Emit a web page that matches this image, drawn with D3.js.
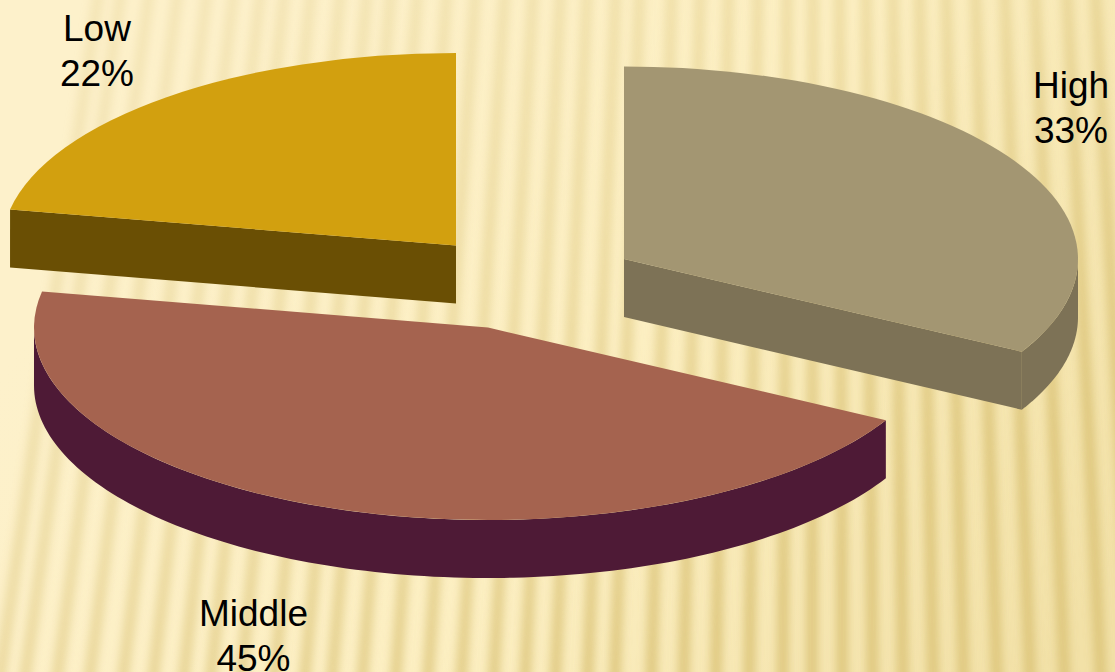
<!DOCTYPE html>
<html>
<head>
<meta charset="utf-8">
<style>
  html, body { margin: 0; padding: 0; background: #fdf1cb; overflow: hidden; }
  svg { display: block; }
  text { font-family: "Liberation Sans", Arial, sans-serif; font-size: 37px; fill: #000; text-anchor: middle; }
</style>
<script src="https://cdnjs.cloudflare.com/ajax/libs/d3/7.8.5/d3.min.js"></script>
</head>
<body>
<svg id="chart" width="1115" height="672"></svg>
<script>
// Share of respondents per group
const categories = ["High", "Middle", "Low"];
const values = [33, 45, 22];
const topColors = ["#a39672", "#a5634f", "#d2a00f"];
const wallColors = ["#7d7256", "#4e1a36", "#6a4f04"];

// Exploded slice origins on the tilted plane
const sliceCentersX = [624, 488, 456];
const sliceCentersY = [259, 327.5, 245.5];

// Label anchors: x centre and first baseline
const labelX = [1071, 253.5, 97];
const labelY = [98, 626, 41];
const labelLineGap = 45;

// Backdrop rib positions along y = 620
const ribs = [8, 33, 65, 97, 130, 160, 190, 217, 247, 280, 310, 337, 367, 400, 432, 465, 497, 528,
              558, 590, 617, 653, 685, 717, 750, 783, 812, 842, 872, 902, 932, 962, 995, 1028, 1062, 1098, 1130];

const width = 1115, height = 672;
const rx = 454, ry = 192.5, depth = 58;

const svg = d3.select("#chart");
const defs = svg.append("defs");

// Warm paper wash, pale at the top left and deeper toward the bottom right
const wash = defs.append("linearGradient").attr("id", "wash")
  .attr("gradientUnits", "userSpaceOnUse")
  .attr("x1", 200).attr("y1", 60).attr("x2", 1080).attr("y2", 620);
wash.append("stop").attr("offset", 0).attr("stop-color", "#fdf1cb");
wash.append("stop").attr("offset", 0.5).attr("stop-color", "#fcefc2");
wash.append("stop").attr("offset", 1).attr("stop-color", "#f2e1a7");

defs.append("filter").attr("id", "soft")
  .attr("filterUnits", "userSpaceOnUse")
  .attr("x", -50).attr("y", -50).attr("width", width + 100).attr("height", height + 100)
  .append("feGaussianBlur").attr("stdDeviation", 4.2);

// Ribs fade out toward the top left
const fade = defs.append("linearGradient").attr("id", "fade")
  .attr("gradientUnits", "userSpaceOnUse")
  .attr("x1", 250).attr("y1", 0).attr("x2", 650).attr("y2", 672);
fade.append("stop").attr("offset", 0).attr("stop-color", "#fff").attr("stop-opacity", 0.28);
fade.append("stop").attr("offset", 0.5).attr("stop-color", "#fff").attr("stop-opacity", 0.5);
fade.append("stop").attr("offset", 1).attr("stop-color", "#fff").attr("stop-opacity", 0.95);
defs.append("mask").attr("id", "ribMask")
  .attr("maskUnits", "userSpaceOnUse")
  .attr("x", 0).attr("y", 0).attr("width", width).attr("height", height)
  .append("rect").attr("width", width).attr("height", height).attr("fill", "url(#fade)");

svg.append("rect").attr("width", width).attr("height", height).attr("fill", "url(#wash)");

// Ribs lean slightly, fanning out from a point far above the page
const fanX = 820, fanY = -5000;
const ribX = (x0, y) => fanX + (x0 - fanX) * (y - fanY) / (620 - fanY);
svg.append("g").attr("mask", "url(#ribMask)")
  .append("g").attr("filter", "url(#soft)")
  .selectAll("line").data(ribs).join("line")
  .attr("x1", d => ribX(d, -20)).attr("y1", -20)
  .attr("x2", d => ribX(d, height + 20)).attr("y2", height + 20)
  .attr("stroke", "#d8bf72").attr("stroke-width", 12).attr("stroke-opacity", 0.8);

// Pie layout: clockwise from twelve o'clock, in the given order
const arcs = d3.pie().sort(null).value(d => d)(values);
const arc = d3.arc().innerRadius(0).outerRadius(rx);

const point = (i, angle, drop) => [
  sliceCentersX[i] + rx * Math.sin(angle),
  sliceCentersY[i] - ry * Math.cos(angle) + drop
];
const outline = d3.line();

const slices = svg.selectAll("g.slice").data(arcs).join("g").attr("class", "slice");

slices.each(function (d, i) {
  const g = d3.select(this);
  const wall = pts => g.append("path").attr("d", outline(pts) + "Z").attr("fill", wallColors[i]);

  // Radial cut faces that turn toward the viewer
  const cx = sliceCentersX[i], cy = sliceCentersY[i];
  const face = a => {
    const p = point(i, a, 0);
    wall([[cx, cy], p, [p[0], p[1] + depth], [cx, cy + depth]]);
  };
  if (Math.sin(d.startAngle) < -1e-6) face(d.startAngle);
  if (Math.sin(d.endAngle) > 1e-6) face(d.endAngle);

  // Outer rim, visible only on the front half of the ellipse
  const a0 = Math.max(d.startAngle, Math.PI / 2);
  const a1 = Math.min(d.endAngle, Math.PI * 1.5);
  if (a1 > a0) {
    const steps = d3.range(0, 121).map(k => a0 + (a1 - a0) * k / 120);
    wall([...steps.map(a => point(i, a, 0)), ...steps.reverse().map(a => point(i, a, depth))]);
  }

  // Top face: a circular wedge flattened onto the tilted plane
  g.append("path")
    .attr("transform", `translate(${cx},${cy}) scale(1,${ry / rx})`)
    .attr("d", arc(d))
    .attr("fill", topColors[i]);
});

// Category and percentage labels
const labels = svg.selectAll("g.label").data(categories).join("g").attr("class", "label");
labels.append("text").attr("x", (d, i) => labelX[i]).attr("y", (d, i) => labelY[i]).text(d => d);
labels.append("text").attr("x", (d, i) => labelX[i]).attr("y", (d, i) => labelY[i] + labelLineGap)
  .text((d, i) => values[i] + "%");
</script>
</body>
</html>
